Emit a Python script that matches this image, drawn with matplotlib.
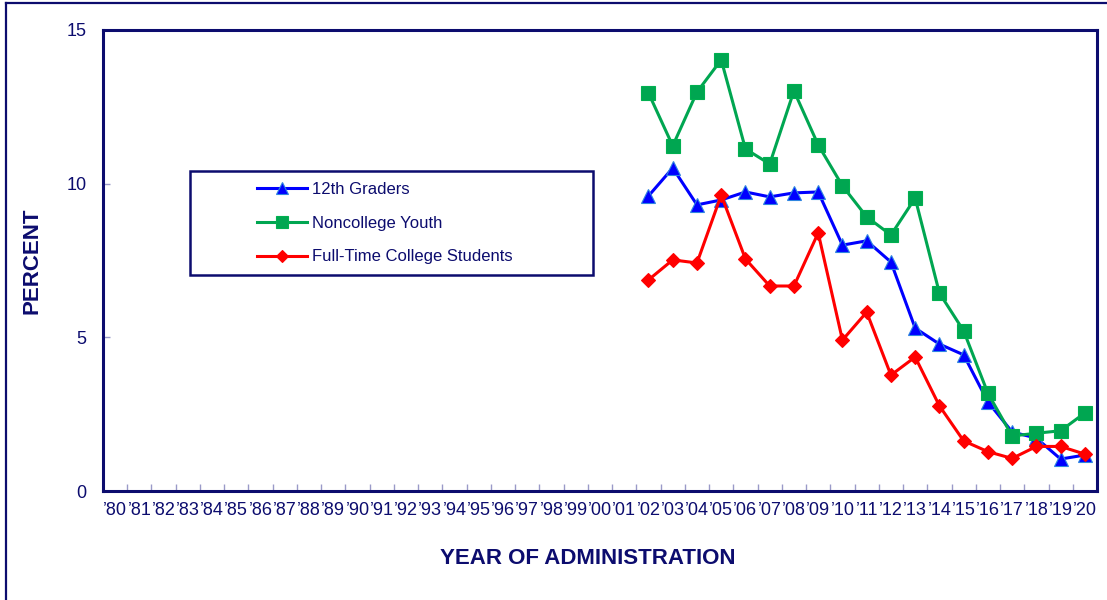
import matplotlib
matplotlib.use("Agg")
import matplotlib.pyplot as plt
from matplotlib.lines import Line2D
from matplotlib.patches import Rectangle
import numpy as np

plt.rcParams["font.family"] = ["Liberation Sans", "DejaVu Sans"]

NAVY = "#0c0c6e"

# 年度ラベル（'80〜'20）
years = [f"\u2019{y % 100:02d}" for y in range(1980, 2021)]
data_years = list(range(2002, 2021))

grade12 = [9.60, 10.51, 9.31, 9.47, 9.73, 9.57, 9.70, 9.73, 8.00, 8.14,
           7.45, 5.30, 4.78, 4.43, 2.90, 1.92, 1.72, 1.04, 1.17]
noncollege = [12.95, 11.23, 12.98, 14.03, 11.13, 10.64, 13.02, 11.26, 9.93, 8.92,
              8.33, 9.53, 6.44, 5.21, 3.18, 1.79, 1.88, 1.96, 2.54]
college = [6.87, 7.52, 7.42, 9.63, 7.55, 6.67, 6.67, 8.40, 4.91, 5.82,
           3.77, 4.36, 2.77, 1.63, 1.28, 1.06, 1.45, 1.45, 1.20]

series = [
    ("12th Graders", grade12, "#0000ff", "^", 10, "#2f86e0"),
    ("Noncollege Youth", noncollege, "#00a651", "s", 10, "#00b050"),
    ("Full-Time College Students", college, "#ff0000", "D", 7.5, "#ff0000"),
]

fig = plt.figure(figsize=(11.07, 6.0), dpi=100)
ax = fig.add_axes([103 / 1107, 1 - 491 / 600, 994 / 1107, 461 / 600])

x_idx = [y - 1980 for y in data_years]
handles = []
for label, vals, col, mk, ms, ec in series:
    h, = ax.plot(x_idx, vals, color=col, lw=2.2, marker=mk, ms=ms,
                 mfc=col, mec=ec, mew=0.8, label=label, zorder=3)
    handles.append(h)

ax.set_xlim(-0.5, len(years) - 0.5)
ax.set_ylim(0, 15)
ax.set_xticks(range(len(years)))
ax.set_xticklabels(years)
ax.set_xticks(np.arange(0.5, len(years) - 1, 1.0), minor=True)
ax.set_yticks([0, 5, 10, 15])
ax.tick_params(axis="x", which="major", length=0, pad=8, labelsize=13,
               labelcolor=NAVY)
ax.tick_params(axis="x", which="minor", direction="in", length=5,
               color="#9a9ac8", width=1)
ax.tick_params(axis="y", direction="in", length=5, color="#9a9ac8", width=1,
               pad=12, labelsize=13, labelcolor=NAVY)
for s in ax.spines.values():
    s.set_color(NAVY)
    s.set_linewidth(2.2)

ax.set_xlabel("YEAR OF ADMINISTRATION", fontsize=16, fontweight="bold",
              color=NAVY)
ax.xaxis.set_label_coords(0.488, -0.123)
ax.set_ylabel("PERCENT", fontsize=16, fontweight="bold", color=NAVY)
ax.yaxis.set_label_coords(-0.0605, 0.5)

# 凡例の枠（手描き）と凡例本体
ax.add_patch(Rectangle((0.0875, 0.4686), 0.405, 0.2256, transform=ax.transAxes,
                       fill=False, ec=NAVY, lw=1.8, zorder=4))
leg = ax.legend(handles=handles, loc="upper left",
                bbox_to_anchor=(0.142, 0.699), frameon=False, fontsize=12,
                handlelength=2.95, handletextpad=0.3, labelspacing=1.12,
                borderpad=0.3, markerscale=0.85, numpoints=1)
for t in leg.get_texts():
    t.set_color(NAVY)

# 外枠（左と上）
fig.add_artist(Line2D([6 / 1107, 6 / 1107], [0, 1 - 2.5 / 600],
                      transform=fig.transFigure, color=NAVY, lw=1.6))
fig.add_artist(Line2D([6 / 1107, 1], [1 - 2.5 / 600, 1 - 2.5 / 600],
                      transform=fig.transFigure, color=NAVY, lw=1.6))

fig.savefig("out.png", dpi=100)
